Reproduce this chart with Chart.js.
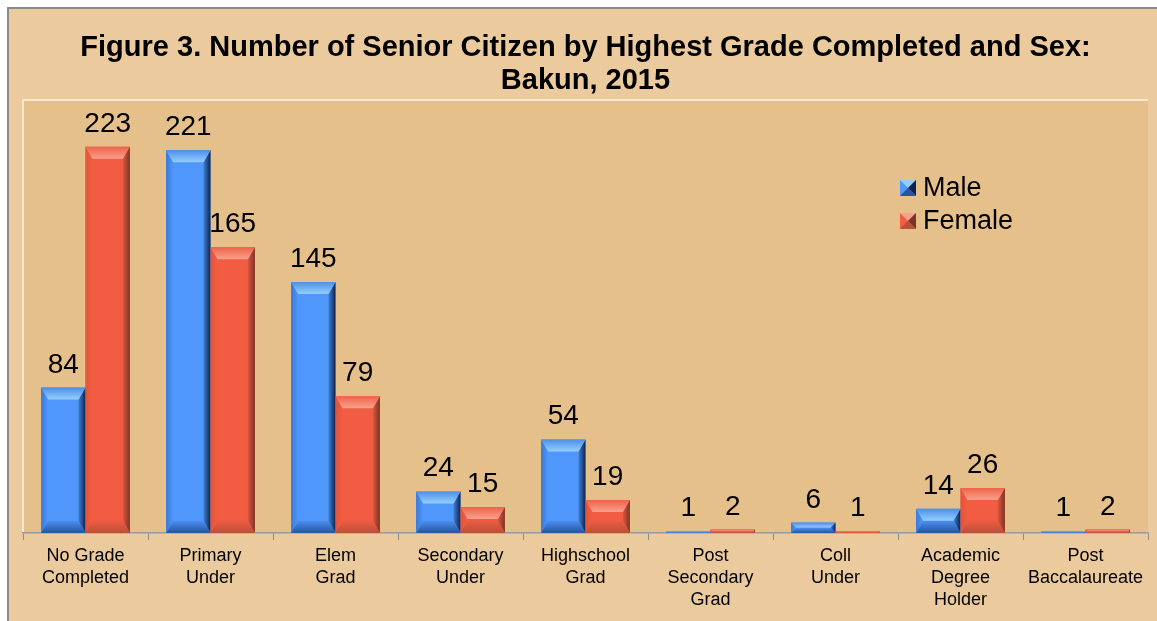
<!DOCTYPE html>
<html>
<head>
<meta charset="utf-8">
<script src="https://cdn.jsdelivr.net/npm/chart.js@4/dist/chart.umd.min.js"></script>
<style>
html,body{margin:0;padding:0;background:#fff;}
#wrap{width:1157px;height:621px;}
</style>
</head>
<body>
<div id="wrap"><canvas id="c" width="1157" height="621"></canvas></div>
<script>
const titleLines = ["Figure 3. Number of Senior Citizen by Highest Grade Completed and Sex:", "Bakun, 2015"];
const categories = [
  ["No Grade", "Completed"],
  ["Primary", "Under"],
  ["Elem", "Grad"],
  ["Secondary", "Under"],
  ["Highschool", "Grad"],
  ["Post", "Secondary", "Grad"],
  ["Coll", "Under"],
  ["Academic", "Degree", "Holder"],
  ["Post", "Baccalaureate"]
];
const maleValues = [84, 221, 145, 24, 54, 1, 6, 14, 1];
const femaleValues = [223, 165, 79, 15, 19, 2, 1, 26, 2];
const seriesNames = ["Male", "Female"];
const yMin = 0, yMax = 250;

const FONT = "'Liberation Sans', Arial, sans-serif";
const palettes = [
  {body:'#4f97fb', topEdge:'#4d8fe8', topIn:'#95ceff', leftEdge:'#3a78d6', rightIn:'#3f7fd8', rightEdge:'#10244a', botIn:'#4a8ef0', botEdge:'#27549c'},
  {body:'#f15c42', topEdge:'#ee6349', topIn:'#f9a18b', leftEdge:'#e0553c', rightIn:'#dd563e', rightEdge:'#7a3526', botIn:'#ee5a41', botEdge:'#b9503a'}
];

const bgPlugin = {
  id: 'bg',
  beforeDraw(chart) {
    const ctx = chart.ctx, a = chart.chartArea;
    ctx.save();
    ctx.fillStyle = '#ffffff';
    ctx.fillRect(0, 0, chart.width, chart.height);
    ctx.fillStyle = '#ebcb9e';
    ctx.fillRect(7, 7, chart.width - 7, chart.height - 7);
    ctx.strokeStyle = '#8a8a8a';
    ctx.lineWidth = 2;
    ctx.beginPath();
    ctx.moveTo(8, chart.height);
    ctx.lineTo(8, 8);
    ctx.lineTo(chart.width, 8);
    ctx.stroke();
    ctx.fillStyle = '#e6c08a';
    ctx.fillRect(a.left, a.top, a.right - a.left, a.bottom - a.top);
    ctx.strokeStyle = '#fbf3e6';
    ctx.lineWidth = 1.5;
    ctx.beginPath();
    ctx.moveTo(a.left, a.bottom);
    ctx.lineTo(a.left, a.top);
    ctx.lineTo(a.right, a.top);
    ctx.stroke();
    ctx.restore();
  }
};

function poly(ctx, pts, color) {
  ctx.fillStyle = color;
  ctx.beginPath();
  ctx.moveTo(pts[0][0], pts[0][1]);
  for (let i = 1; i < pts.length; i++) ctx.lineTo(pts[i][0], pts[i][1]);
  ctx.closePath();
  ctx.fill();
}
function lg(ctx, x0, y0, x1, y1, c0, c1) {
  const g = ctx.createLinearGradient(x0, y0, x1, y1);
  g.addColorStop(0, c0);
  g.addColorStop(1, c1);
  return g;
}

const bevelPlugin = {
  id: 'bevel',
  afterDatasetsDraw(chart) {
    const ctx = chart.ctx;
    ctx.save();
    chart.data.datasets.forEach((ds, di) => {
      const meta = chart.getDatasetMeta(di);
      const p = palettes[di];
      meta.data.forEach((bar, i) => {
        const L = bar.x - bar.width / 2, R = bar.x + bar.width / 2;
        const T = Math.min(bar.y, bar.base), B = Math.max(bar.y, bar.base);
        const h = B - T;
        if (h <= 0) return;
        const sy = Math.min(12, h / 2);
        const sx = Math.min(7, sy);
        // left
        poly(ctx, [[L, T], [L + sx, T + sy], [L + sx, B - sy], [L, B]], lg(ctx, L, 0, L + sx, 0, p.leftEdge, p.body));
        // right
        poly(ctx, [[R, T], [R, B], [R - sx, B - sy], [R - sx, T + sy]], lg(ctx, R - sx, 0, R, 0, p.rightIn, p.rightEdge));
        // top
        poly(ctx, [[L, T], [R, T], [R - sx, T + sy], [L + sx, T + sy]], lg(ctx, 0, T, 0, T + sy, p.topEdge, p.topIn));
        // bottom
        poly(ctx, [[L, B], [R, B], [R - sx, B - sy], [L + sx, B - sy]], lg(ctx, 0, B - sy, 0, B, p.botIn, p.botEdge));
      });
    });
    // data labels
    ctx.fillStyle = '#000';
    ctx.font = '28px ' + FONT;
    ctx.textAlign = 'center';
    ctx.textBaseline = 'alphabetic';
    chart.data.datasets.forEach((ds, di) => {
      const meta = chart.getDatasetMeta(di);
      meta.data.forEach((bar, i) => {
        ctx.fillText(String(ds.data[i]), bar.x, bar.y - 15);
      });
    });
    // legend
    const lx = 900, ly = [188, 221];
    chart.data.datasets.forEach((ds, di) => {
      const p = palettes[di];
      const x = lx, y = ly[di] - 8, s = 16;
      poly(ctx, [[x, y], [x + s, y], [x + s, y + s], [x, y + s]], p.body);
      poly(ctx, [[x, y], [x + s, y], [x + s / 2, y + s / 2]], p.topIn);
      poly(ctx, [[x + s, y], [x + s, y + s], [x + s / 2, y + s / 2]], p.rightEdge);
      poly(ctx, [[x, y + s], [x + s, y + s], [x + s / 2, y + s / 2]], p.botEdge);
      ctx.fillStyle = '#000';
      ctx.font = '27px ' + FONT;
      ctx.textAlign = 'left';
      ctx.textBaseline = 'middle';
      ctx.fillText(ds.label, x + 23, ly[di] + 1);
    });
    ctx.restore();
  }
};

new Chart(document.getElementById('c'), {
  type: 'bar',
  data: {
    labels: categories,
    datasets: [
      {label: seriesNames[0], data: maleValues, backgroundColor: palettes[0].body, borderWidth: 0},
      {label: seriesNames[1], data: femaleValues, backgroundColor: palettes[1].body, borderWidth: 0}
    ]
  },
  options: {
    responsive: false,
    animation: false,
    devicePixelRatio: 1,
    layout: {padding: {left: 23, right: 9, top: 0, bottom: 0}},
    plugins: {
      legend: {display: false},
      tooltip: {enabled: false},
      title: {
        display: true,
        text: titleLines,
        color: '#000',
        font: {family: FONT, size: 29, weight: 'bold', lineHeight: 1.14},
        padding: {top: 31, bottom: 3}
      }
    },
    datasets: {bar: {categoryPercentage: 0.71, barPercentage: 1.0}},
    scales: {
      x: {
        offset: true,
        grid: {display: true, drawOnChartArea: false, offset: true, tickLength: 7, color: '#8c8c8c', lineWidth: 1},
        border: {display: true, color: '#9a9a9a', width: 1.5},
        ticks: {color: '#000', maxRotation: 0, autoSkip: false, padding: 5,
                font: {family: FONT, size: 18, lineHeight: 1.22}},
        afterFit(scale) { scale.height = 88; }
      },
      y: {
        display: false,
        min: yMin,
        max: yMax
      }
    }
  },
  plugins: [bgPlugin, bevelPlugin]
});
</script>
</body>
</html>
